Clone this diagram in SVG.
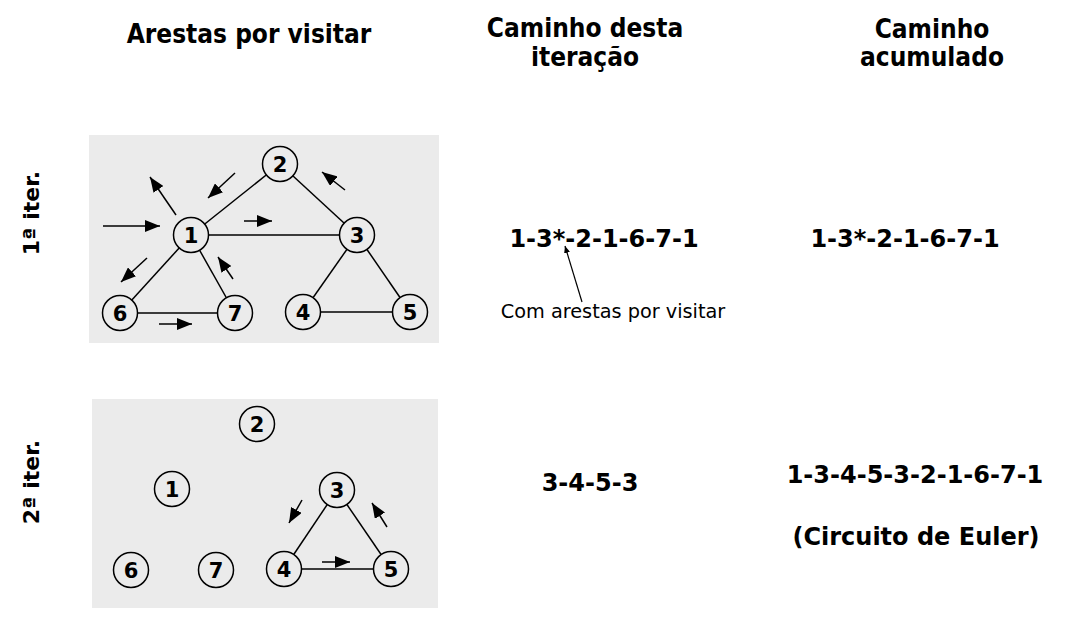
<svg xmlns="http://www.w3.org/2000/svg" width="1092" height="622" viewBox="0 0 1092 622">
<style>
.hdr{font-family:"DejaVu Sans Condensed","DejaVu Sans",sans-serif;font-weight:bold;font-size:26px;text-anchor:middle;fill:#000}
.path{font-family:"DejaVu Sans",sans-serif;font-weight:bold;font-size:24px;text-anchor:middle;fill:#000}
.note{font-family:"DejaVu Sans",sans-serif;font-size:19.3px;text-anchor:middle;fill:#000}
.side{font-family:"DejaVu Sans",sans-serif;font-weight:bold;font-size:22px;text-anchor:middle;fill:#000}
.box{fill:#ebebeb;stroke:none}
.node circle{fill:#ebebeb;stroke:#000;stroke-width:1.5}
.node text{font-family:"DejaVu Sans",sans-serif;font-weight:bold;font-size:21px;text-anchor:middle;fill:#000}
.edge{stroke:#000;stroke-width:1.5;fill:none}
.arr{stroke:#000;stroke-width:1.5;fill:none;marker-end:url(#head)}
.ptr{stroke:#000;stroke-width:1.2;fill:none;marker-end:url(#small)}
</style>
<defs>
<marker id="head" markerUnits="userSpaceOnUse" markerWidth="16" markerHeight="12" refX="15" refY="6" orient="auto">
<path d="M0,0 L15,6 L0,12 z" fill="#000"/>
</marker>
<marker id="small" markerUnits="userSpaceOnUse" markerWidth="8" markerHeight="6" refX="7" refY="3" orient="auto">
<path d="M0,0 L7,3 L0,6 z" fill="#000"/>
</marker>
</defs>
<rect width="1092" height="622" fill="#fff"/>

<g id="headers">
<text class="hdr" x="249" y="43">Arestas por visitar</text>
<text class="hdr" x="585" y="37">Caminho desta</text>
<text class="hdr" x="585" y="66">iteração</text>
<text class="hdr" x="932" y="38">Caminho</text>
<text class="hdr" x="932" y="66">acumulado</text>
</g>

<g id="row-labels">
<text class="side" transform="translate(39,213) rotate(-90)">1ª iter.</text>
<text class="side" transform="translate(39,482) rotate(-90)">2ª iter.</text>
</g>

<!-- Iteration 1 graph -->
<rect id="box1" class="box" x="89" y="135" width="350" height="208"/>
<g id="connectors1">
<line class="edge" x1="191" y1="235" x2="280" y2="164"/>
<line class="edge" x1="280" y1="164" x2="357" y2="235"/>
<line class="edge" x1="191" y1="235" x2="357" y2="235"/>
<line class="edge" x1="191" y1="235" x2="120" y2="313"/>
<line class="edge" x1="191" y1="235" x2="235" y2="313"/>
<line class="edge" x1="120" y1="313" x2="235" y2="313"/>
<line class="edge" x1="357" y1="235" x2="303" y2="312"/>
<line class="edge" x1="357" y1="235" x2="410" y2="312"/>
<line class="edge" x1="303" y1="312" x2="410" y2="312"/>
<line class="arr" x1="103" y1="226" x2="160" y2="226"/>
<line class="arr" x1="176" y1="215" x2="150" y2="177"/>
<line class="arr" x1="235" y1="173" x2="208" y2="198"/>
<line class="arr" x1="345" y1="190" x2="322" y2="172"/>
<line class="arr" x1="244" y1="221" x2="272" y2="221"/>
<line class="arr" x1="147" y1="258" x2="121" y2="282"/>
<line class="arr" x1="233" y1="279" x2="218" y2="257"/>
<line class="arr" x1="159" y1="324" x2="192" y2="324"/>
</g>
<g id="g1-n1" class="node"><circle cx="191" cy="235" r="17.5"/><text x="191" y="242.5">1</text></g>
<g id="g1-n2" class="node"><circle cx="280" cy="164" r="17.5"/><text x="280" y="171.5">2</text></g>
<g id="g1-n3" class="node"><circle cx="357" cy="235" r="17.5"/><text x="357" y="242.5">3</text></g>
<g id="g1-n4" class="node"><circle cx="303" cy="312" r="17.5"/><text x="303" y="319.5">4</text></g>
<g id="g1-n5" class="node"><circle cx="410" cy="312" r="17.5"/><text x="410" y="319.5">5</text></g>
<g id="g1-n6" class="node"><circle cx="120" cy="313" r="17.5"/><text x="120" y="320.5">6</text></g>
<g id="g1-n7" class="node"><circle cx="235" cy="313" r="17.5"/><text x="235" y="320.5">7</text></g>

<!-- Iteration 2 graph -->
<rect id="box2" class="box" x="92" y="399" width="346" height="209"/>
<g id="connectors2">
<line class="edge" x1="337" y1="490" x2="284" y2="569"/>
<line class="edge" x1="337" y1="490" x2="391" y2="569"/>
<line class="edge" x1="284" y1="569" x2="391" y2="569"/>
<line class="arr" x1="302" y1="500" x2="289" y2="523"/>
<line class="arr" x1="387" y1="527" x2="372" y2="503"/>
<line class="arr" x1="322" y1="562" x2="350" y2="562"/>
</g>
<g id="g2-n1" class="node"><circle cx="172" cy="489" r="17.5"/><text x="172" y="496.5">1</text></g>
<g id="g2-n2" class="node"><circle cx="257" cy="424" r="17.5"/><text x="257" y="431.5">2</text></g>
<g id="g2-n3" class="node"><circle cx="337" cy="490" r="17.5"/><text x="337" y="497.5">3</text></g>
<g id="g2-n4" class="node"><circle cx="284" cy="569" r="17.5"/><text x="284" y="576.5">4</text></g>
<g id="g2-n5" class="node"><circle cx="391" cy="569" r="17.5"/><text x="391" y="576.5">5</text></g>
<g id="g2-n6" class="node"><circle cx="131" cy="570" r="17.5"/><text x="131" y="577.5">6</text></g>
<g id="g2-n7" class="node"><circle cx="216" cy="570" r="17.5"/><text x="216" y="577.5">7</text></g>

<g id="paths">
<text class="path" x="604" y="247">1-3*-2-1-6-7-1</text>
<text class="path" x="905" y="247">1-3*-2-1-6-7-1</text>
<text class="path" x="590" y="491">3-4-5-3</text>
<text class="path" x="915" y="483">1-3-4-5-3-2-1-6-7-1</text>
<text class="path" x="916" y="545">(Circuito de Euler)</text>
</g>
<g id="annotation">
<line class="ptr" x1="582" y1="302" x2="565" y2="246"/>
<text class="note" x="613" y="318">Com arestas por visitar</text>
</g>
</svg>
